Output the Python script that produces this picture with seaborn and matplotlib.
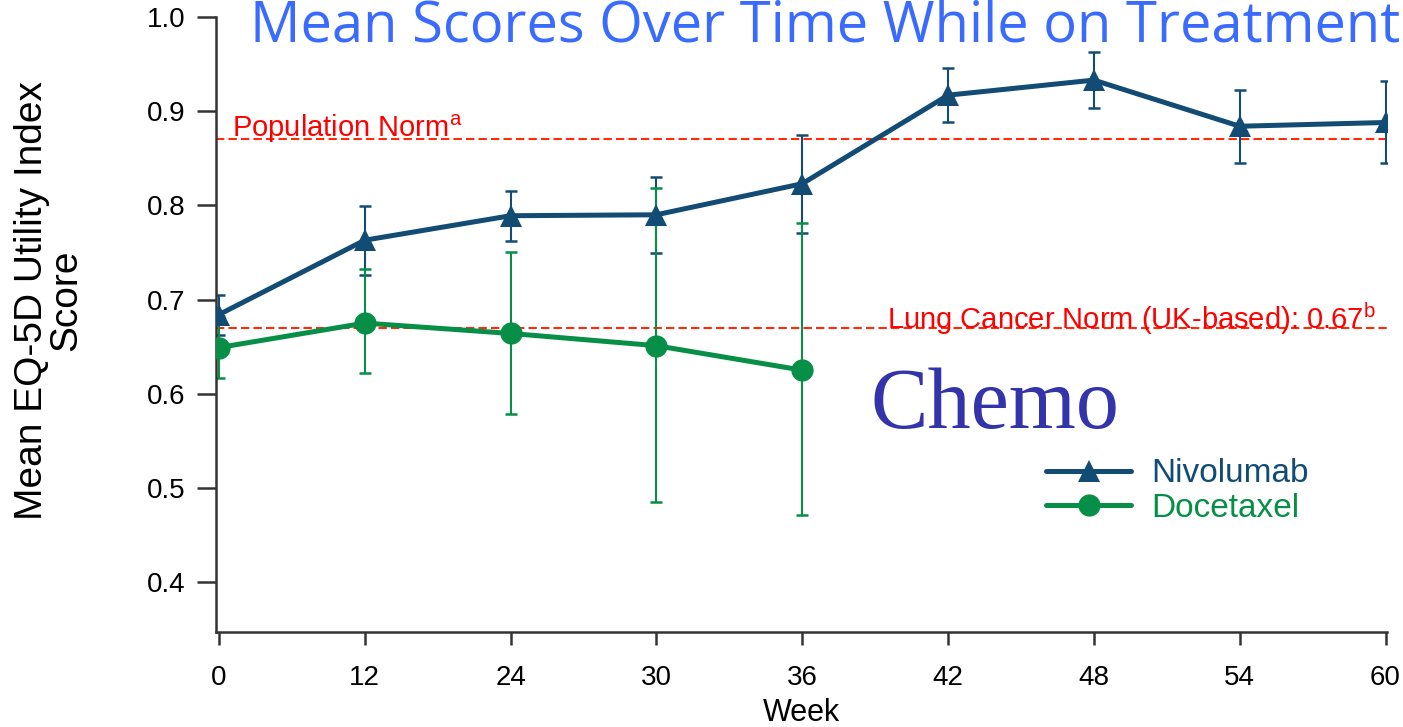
import pandas as pd
import matplotlib
matplotlib.use("Agg")
import matplotlib.pyplot as plt
import seaborn as sns

# data
weeks = ["0", "12", "24", "30", "36", "42", "48", "54", "60"]

nivo_mean = [0.684, 0.763, 0.789, 0.790, 0.823, 0.917, 0.933, 0.884, 0.888]
nivo_low = [0.662, 0.726, 0.762, 0.749, 0.771, 0.888, 0.903, 0.845, 0.845]
nivo_high = [0.705, 0.799, 0.815, 0.830, 0.875, 0.946, 0.963, 0.922, 0.932]

doce_mean = [0.649, 0.675, 0.664, 0.651, 0.625]
doce_low = [0.617, 0.622, 0.579, 0.485, 0.471]
doce_high = [0.682, 0.732, 0.750, 0.818, 0.781]

pop_norm = 0.87
lung_norm = 0.67

arms = ["Nivolumab", "Docetaxel"]
colors = {"Nivolumab": "#124C74", "Docetaxel": "#078F47"}

# 整理成长表
rows = []
for i, m in enumerate(nivo_mean):
    rows.append({"pos": i, "arm": "Nivolumab", "score": m, "low": nivo_low[i], "high": nivo_high[i]})
for i, m in enumerate(doce_mean):
    rows.append({"pos": i, "arm": "Docetaxel", "score": m, "low": doce_low[i], "high": doce_high[i]})
df = pd.DataFrame(rows)

sns.set_style("white")
plt.rcParams["font.family"] = ["Liberation Sans", "DejaVu Sans"]
plt.rcParams["mathtext.fontset"] = "custom"
plt.rcParams["mathtext.rm"] = "Liberation Sans"
plt.rcParams["text.color"] = "black"
plt.rcParams["axes.labelcolor"] = "black"

fig = plt.figure(figsize=(14.03, 7.27), dpi=100)
ax = fig.add_axes([216 / 1403, 1 - 632 / 727, (1387 - 216) / 1403, (632 - 17) / 727])

# 误差线
for arm in arms:
    sub = df[df["arm"] == arm]
    ax.errorbar(sub["pos"], sub["score"],
                yerr=[sub["score"] - sub["low"], sub["high"] - sub["score"]],
                fmt="none", ecolor=colors[arm], elinewidth=1.5, capsize=4.5,
                capthick=1.8, zorder=2)

sns.lineplot(data=df, x="pos", y="score", hue="arm", style="arm",
             hue_order=arms, style_order=arms, palette=colors,
             markers={"Nivolumab": "^", "Docetaxel": "o"}, dashes=False,
             linewidth=3.6, markersize=16, markeredgewidth=0, ax=ax, zorder=3)

# 参考线
ax.axhline(pop_norm, color="#FF2A0A", lw=1.5, ls=(0, (4, 2)), zorder=1)
ax.axhline(lung_norm, color="#FF2A0A", lw=1.5, ls=(0, (4, 2)), zorder=1)
ax.text(0.089, 0.873, "Population Norm$^{\\mathrm{a}}$", color="#FF0000", fontsize=21, va="baseline")
ax.text(4.58, 0.6685, "Lung Cancer Norm (UK-based): 0.67$^{\\mathrm{b}}$", color="#FF0000",
        fontsize=21, va="baseline")

ax.set_xlim(-0.02, 8.01)
ax.set_ylim(0.347, 1.0)
ax.set_xticks(range(len(weeks)))
ax.set_xticklabels(weeks)
ax.set_yticks([0.4, 0.5, 0.6, 0.7, 0.8, 0.9, 1.0])
ax.set_yticklabels(["0.4", "0.5", "0.6", "0.7", "0.8", "0.9", "1.0"])
ax.tick_params(axis="y", left=True, direction="out", length=14, width=1.8, pad=8,
               labelsize=20, color="#333333", labelcolor="black")
ax.tick_params(axis="x", bottom=True, direction="out", length=9, width=1.8, pad=15,
               labelsize=20, color="#333333", labelcolor="black")
for s in ["top", "right"]:
    ax.spines[s].set_visible(False)
for s in ["left", "bottom"]:
    ax.spines[s].set_linewidth(1.8)
    ax.spines[s].set_color("#333333")
ax.set_xlabel("Week", fontsize=22, labelpad=5)
ax.set_ylabel("")

fig.text(49 / 1403, 1 - 300 / 727, "Mean EQ-5D Utility Index\nScore", rotation=90,
         ha="center", va="center", multialignment="center", linespacing=0.95, fontsize=28)

# 标题和注释
fig.text(250 / 1403, 1 - 41 / 727, "Mean Scores Over Time While on Treatment",
         family=["Open Sans", "DejaVu Sans"], fontsize=40.4, color="#3A6BFF", va="baseline")
fig.text(870 / 1403, 1 - 428 / 727, "Chemo", family=["Liberation Serif", "DejaVu Serif"],
         fontsize=62, color="#3333AA", va="baseline")

handles, labels = ax.get_legend_handles_labels()
leg = ax.legend(handles, labels, loc="center left",
                bbox_to_anchor=(1046 / 1403, 1 - 491 / 727), bbox_transform=fig.transFigure,
                frameon=False, fontsize=24, handlelength=2.55, handletextpad=0.6,
                labelspacing=0.1, borderpad=0, borderaxespad=0)
for txt in leg.get_texts():
    txt.set_color(colors[txt.get_text()])

fig.savefig("out.png", dpi=100)
